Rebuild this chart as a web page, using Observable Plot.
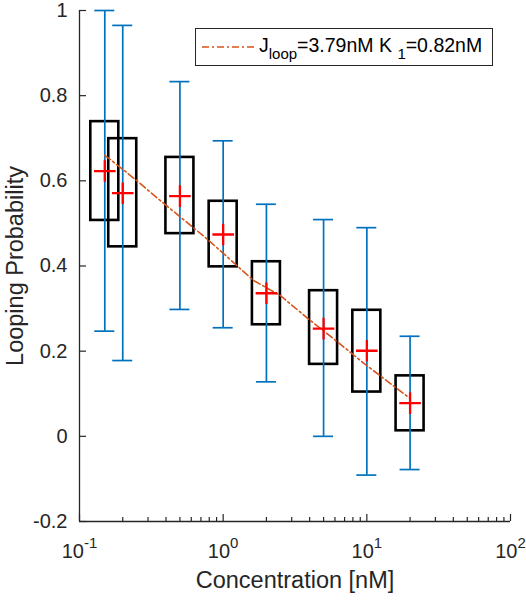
<!DOCTYPE html>
<html>
<head>
<meta charset="utf-8">
<script src="https://cdn.jsdelivr.net/npm/d3@7"></script>
<script src="https://cdn.jsdelivr.net/npm/@observablehq/plot@0.6"></script>
<style>
  body { margin: 0; background: #fff; }
  #wrap { position: relative; width: 526px; height: 600px; font-family: "Liberation Sans", Arial, Helvetica, sans-serif; }
  #legend { position: absolute; left: 195px; top: 28px; width: 298px; height: 38px; box-sizing: border-box;
            border: 1.3px solid #262626; background: #fff; color: #000; font-size: 19.5px; white-space: nowrap; }
  #legend svg { position: absolute; left: 6px; top: 13px; }
  #legend .lt { position: absolute; left: 63px; top: 6px; line-height: 20px; }
  #legend sub { font-size: 15px; vertical-align: -7px; line-height: 0; }
</style>
</head>
<body>
<div id="wrap">
  <div id="chart"></div>
  <div id="legend">
    <svg width="52" height="10"><line x1="0" y1="5" x2="52" y2="5" stroke="#D95319" stroke-width="1.6" stroke-dasharray="7,3,2,3"></line></svg>
    <span class="lt">J<sub>loop</sub>=3.79nM K <sub>1</sub>=0.82nM</span>
  </div>
</div>
<script>
// ---- data ----
const concentration = [0.15, 0.2, 0.5, 1, 2, 5, 10, 20];
const meanValue     = [0.623, 0.571, 0.564, 0.474, 0.336, 0.253, 0.201, 0.078];
const boxLow        = [0.507, 0.445, 0.476, 0.398, 0.262, 0.169, 0.104, 0.013];
const boxHigh       = [0.739, 0.699, 0.655, 0.552, 0.410, 0.342, 0.296, 0.142];
const whiskerLow    = [0.247, 0.178, 0.298, 0.255, 0.128, 0.000, -0.091, -0.078];
const whiskerHigh   = [1.000, 0.965, 0.833, 0.694, 0.545, 0.509, 0.490, 0.235];

const fitConcentration = [0.15, 0.2, 0.264, 0.364, 0.5, 0.769, 1, 1.626, 2, 2.49, 4.04, 5, 10, 20];
const fitProbability   = [0.660, 0.627, 0.594, 0.554, 0.516, 0.464, 0.430, 0.366, 0.349, 0.331, 0.272, 0.248, 0.166, 0.089];

const yTicks = [-0.2, 0, 0.2, 0.4, 0.6, 0.8, 1];
const xMajorTicks = [0.1, 1, 10, 100];
const xMinorTicks = [0.2, 0.3, 0.4, 0.5, 0.6, 0.7, 0.8, 0.9, 2, 3, 4, 5, 6, 7, 8, 9, 20, 30, 40, 50, 60, 70, 80, 90];
const xTickLabels = ["10^-1", "10^0", "10^1", "10^2"];
const xLabel = "Concentration [nM]";
const yLabel = "Looping Probability";

// ---- layout ----
const W = 526, H = 600;
const mL = 79, mR = 16, mT = 10, mB = 79;
const plotW = W - mL - mR, plotH = H - mT - mB;
const axisColor = "#262626";

const rows = concentration.map((c, i) => ({
  c, mean: meanValue[i], lo: boxLow[i], hi: boxHigh[i], wlo: whiskerLow[i], whi: whiskerHigh[i]
}));
const fit = fitConcentration.map((c, i) => ({c, p: fitProbability[i]}));

const chart = Plot.plot({
  width: W, height: H,
  marginLeft: mL, marginRight: mR, marginTop: mT, marginBottom: mB,
  style: {fontFamily: '"Liberation Sans", Arial, Helvetica, sans-serif', background: "#fff", color: axisColor},
  x: {type: "log", domain: [0.1, 100], axis: null},
  y: {domain: [-0.2, 1], axis: null},
  marks: [
    // axis lines
    Plot.ruleX([0.1], {stroke: axisColor, strokeWidth: 1.3}),
    Plot.ruleY([-0.2], {stroke: axisColor, strokeWidth: 1.3}),
    // inward ticks
    Plot.tickY(yTicks, {y: d => d, stroke: axisColor, strokeWidth: 1.2, insetRight: plotW - 7}),
    Plot.tickX(xMajorTicks, {x: d => d, stroke: axisColor, strokeWidth: 1.2, insetTop: plotH - 7}),
    Plot.tickX(xMinorTicks, {x: d => d, stroke: axisColor, strokeWidth: 1.2, insetTop: plotH - 4}),
    // tick labels
    Plot.text(yTicks, {y: d => d, text: d => String(d), frameAnchor: "left", dx: -12, textAnchor: "end",
      fontSize: 20, fill: axisColor}),
    Plot.text(xMajorTicks, {x: d => d, text: (d, i) => xTickLabels[i], frameAnchor: "bottom", dy: 36,
      lineAnchor: "bottom", textAnchor: "middle", fontSize: 20, fill: axisColor}),
    // axis titles
    Plot.text([xLabel], {text: d => d, frameAnchor: "bottom", dy: 66.5, lineAnchor: "bottom", textAnchor: "middle",
      fontSize: 23.5, fill: axisColor}),
    Plot.text([yLabel], {text: d => d, frameAnchor: "left", dx: -57, rotate: -90, lineAnchor: "bottom", textAnchor: "middle",
      fontSize: 23.5, fill: axisColor}),
    // boxes
    Plot.rect(rows, {x1: "c", x2: "c", y1: "lo", y2: "hi", insetLeft: -14, insetRight: -14,
      fill: "none", stroke: "#000", strokeWidth: 2.6}),
    // error bars
    Plot.ruleX(rows, {x: "c", y1: "wlo", y2: "whi", stroke: "#0072BD", strokeWidth: 1.7}),
    Plot.ruleY(rows, {y: "whi", x1: "c", x2: "c", insetLeft: -10, insetRight: -10, stroke: "#0072BD", strokeWidth: 1.7}),
    Plot.ruleY(rows, {y: "wlo", x1: "c", x2: "c", insetLeft: -10, insetRight: -10, stroke: "#0072BD", strokeWidth: 1.7}),
    // fit line
    Plot.line(fit, {x: "c", y: "p", stroke: "#D95319", strokeWidth: 1.6, strokeDasharray: "7,3,2,3"}),
    // means
    Plot.dot(rows, {x: "c", y: "mean", symbol: "plus", r: 7, stroke: "#FF0000", strokeWidth: 2.3})
  ]
});
document.getElementById("chart").appendChild(chart);

// superscript exponents in x tick labels
chart.querySelectorAll("text").forEach(t => {
  const m = /^10\^(-?\d+)$/.exec(t.textContent);
  if (!m) return;
  t.textContent = "10";
  const ts = document.createElementNS("http://www.w3.org/2000/svg", "tspan");
  ts.setAttribute("dy", "-10");
  ts.setAttribute("font-size", "15");
  ts.textContent = m[1];
  t.appendChild(ts);
});
</script>
</body>
</html>
